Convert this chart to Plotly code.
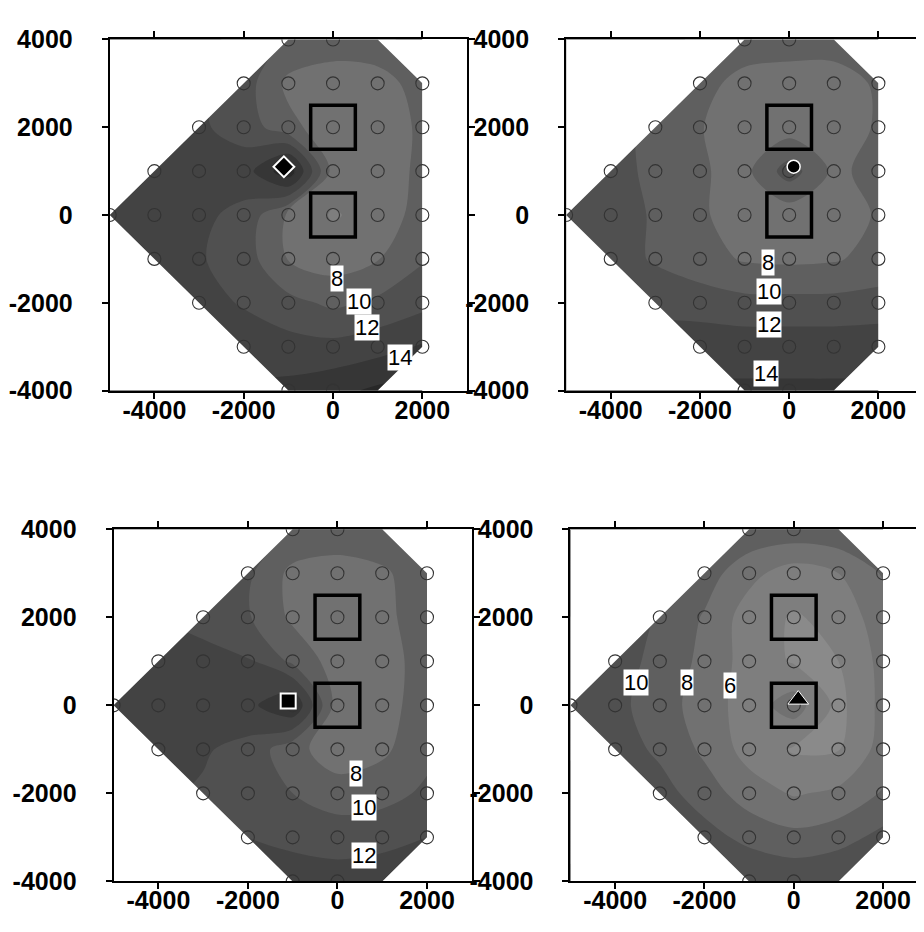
import plotly.graph_objects as go

# ---------------- data ----------------
grid_x = [-5000, -4000, -3000, -2000, -1000, 0, 1000, 2000]
grid_y = [4000, 3000, 2000, 1000, 0, -1000, -2000, -3000, -4000]

# panel values, rows follow grid_y (top to bottom), columns follow grid_x
z_top_left = [
    [13.0, 12.8, 12.4, 11.6, 9.8, 9.0, 9.6, 10.6],
    [13.0, 12.8, 12.4, 11.0, 7.5, 7.0, 7.0, 9.0],
    [13.0, 12.8, 12.3, 11.2, 8.6, 6.8, 7.0, 8.3],
    [13.0, 12.8, 12.6, 13.0, 17.5, 7.2, 7.0, 8.4],
    [13.0, 12.8, 12.4, 11.5, 7.6, 5.8, 6.8, 8.8],
    [13.0, 12.8, 12.2, 11.0, 7.9, 7.0, 7.9, 9.8],
    [13.4, 13.2, 12.8, 11.8, 10.6, 9.6, 10.4, 11.4],
    [14.0, 14.0, 13.8, 13.2, 12.8, 12.6, 13.2, 14.2],
    [14.6, 14.6, 14.5, 14.4, 14.6, 15.4, 16.4, 16.8],
]
z_top_right = [
    [11.6, 11.0, 10.4, 9.8, 9.0, 8.8, 9.0, 9.8],
    [12.0, 11.0, 10.0, 8.6, 7.4, 7.2, 7.0, 8.3],
    [11.8, 10.8, 9.4, 8.1, 7.0, 7.0, 7.0, 8.2],
    [11.4, 10.6, 9.6, 8.2, 7.4, 11.0, 7.6, 8.6],
    [11.5, 10.8, 9.8, 8.3, 7.0, 6.8, 7.0, 8.2],
    [11.8, 10.8, 9.8, 8.8, 7.8, 7.6, 7.8, 8.6],
    [12.4, 11.6, 11.2, 11.0, 10.6, 10.6, 10.6, 10.8],
    [13.6, 13.5, 13.4, 13.3, 13.2, 13.2, 13.2, 13.3],
    [14.4, 14.4, 14.3, 14.3, 14.3, 14.3, 14.3, 14.3],
]
z_bottom_left = [
    [12.0, 12.0, 11.5, 11.0, 10.0, 9.4, 9.8, 10.5],
    [12.0, 11.8, 11.2, 10.4, 7.4, 7.0, 7.6, 9.4],
    [12.4, 12.0, 11.4, 10.2, 7.6, 6.8, 7.4, 9.2],
    [13.0, 12.8, 12.6, 12.2, 9.6, 7.0, 7.0, 9.0],
    [13.4, 13.2, 13.2, 13.4, 16.0, 7.0, 7.2, 9.0],
    [13.0, 12.6, 12.2, 11.4, 8.6, 7.0, 7.6, 9.4],
    [12.6, 12.4, 11.8, 11.0, 10.0, 8.8, 9.2, 10.4],
    [13.0, 12.8, 12.4, 12.0, 11.6, 11.3, 11.5, 12.0],
    [13.6, 13.4, 13.2, 13.0, 12.8, 12.7, 12.9, 13.2],
]
z_bottom_right = [
    [13.0, 12.4, 11.6, 10.6, 9.6, 9.4, 9.6, 10.4],
    [12.4, 11.6, 10.6, 9.0, 6.6, 5.0, 6.0, 8.2],
    [12.0, 11.2, 9.8, 7.8, 5.0, 3.8, 4.6, 7.2],
    [11.8, 11.0, 9.3, 7.5, 5.1, 3.8, 4.0, 6.6],
    [11.4, 10.6, 8.9, 7.1, 5.0, 7.0, 3.4, 6.6],
    [11.8, 11.0, 9.6, 7.6, 5.2, 3.8, 3.9, 6.8],
    [12.6, 11.8, 10.8, 9.0, 7.0, 5.8, 6.4, 8.2],
    [13.4, 12.8, 12.0, 10.8, 9.4, 8.6, 9.2, 10.6],
    [14.4, 14.0, 13.4, 12.8, 12.0, 11.6, 12.0, 13.0],
]

# station positions
station_x = [-5000,
             -4000, -4000, -4000,
             -3000, -3000, -3000, -3000, -3000,
             -2000, -2000, -2000, -2000, -2000, -2000, -2000,
             -1000, -1000, -1000, -1000, -1000, -1000, -1000, -1000, -1000,
             0, 0, 0, 0, 0, 0, 0, 0, 0,
             1000, 1000, 1000, 1000, 1000, 1000, 1000,
             2000, 2000, 2000, 2000, 2000, 2000, 2000]
station_y = [0,
             -1000, 0, 1000,
             -2000, -1000, 0, 1000, 2000,
             -3000, -2000, -1000, 0, 1000, 2000, 3000,
             -4000, -3000, -2000, -1000, 0, 1000, 2000, 3000, 4000,
             -4000, -3000, -2000, -1000, 0, 1000, 2000, 3000, 4000,
             -3000, -2000, -1000, 0, 1000, 2000, 3000,
             -3000, -2000, -1000, 0, 1000, 2000, 3000]

# outline of the station array (convex hull)
hull_x = [-5000, -1000, 1000, 2000, 2000, 1000, -1000]
hull_y = [0, -4000, -4000, -3000, 3000, 4000, 4000]

# boxes around the two reference stations
box_center_x = [0, 0]
box_center_y = [2000, 0]
box_half = 500

# source markers
source_x = [-1100, 100, -1100, 100]
source_y = [1100, 1100, 100, 130]
source_symbol = ["diamond", "circle", "square", "triangle-up"]

# contour labels
label_text = [["8", "10", "12", "14"], ["8", "10", "12", "14"],
              ["8", "10", "12"], ["10", "8", "6"]]
label_x = [[100, 580, 750, 1490], [-470, -460, -460, -510],
           [410, 590, 590], [-3540, -2390, -1420]]
label_y = [[-1450, -1965, -2570, -3257], [-1090, -1735, -2500, -3620],
           [-1557, -2330, -3420], [510, 510, 450]]

x_tick_vals = [-4000, -2000, 0, 2000]
x_tick_text = ["-4000", "-2000", "0", "2000"]
y_tick_vals = [-4000, -2000, 0, 2000, 4000]
y_tick_text = ["-4000", "-2000", "0", "2000", "4000"]

band_grays = ["#969696", "#8a8a8a", "#7e7e7e", "#717171", "#5f5f5f",
              "#505050", "#434343", "#363636", "#282828", "#1c1c1c"]

# ---------------- layout geometry (pixels) ----------------
W, H = 924, 932
panels = [
    dict(z=z_top_left, px=(102.6, 463.0), py=(18, 380)),
    dict(z=z_top_right, px=(563.0, 923.0), py=(18, 380)),
    dict(z=z_bottom_left, px=(106.5, 467.8), py=(523, 886)),
    dict(z=z_bottom_right, px=(567.4, 924.0), py=(523, 886)),
]
x_range_full = [-5000, 3000]
y_range = [-4000, 4000]
units_per_px = 8000 / 360.4

colorscale = [[i / (len(band_grays) - 1), c] for i, c in enumerate(band_grays)]

fig = go.Figure()
layout = dict(width=W, height=H, margin=dict(l=0, r=0, t=0, b=0),
              paper_bgcolor="white", plot_bgcolor="white", showlegend=False)
shapes = []
annotations = []

tickfont = dict(family="Liberation Sans, Arial, sans-serif", size=25,
                color="black", weight="bold")
marker_sizes = {"diamond": 16, "circle": 13, "square": 15, "triangle-up": 18}
marker_lines = {"diamond": 2, "circle": 1.5, "square": 2, "triangle-up": 1}

for i, p in enumerate(panels):
    n = "" if i == 0 else str(i + 1)
    xa, ya = "x" + n, "y" + n
    x0, x1 = p["px"]
    y0, y1 = p["py"]
    xr = [x_range_full[0], x_range_full[0] + (x1 - x0) * units_per_px] if i == 3 else x_range_full

    # contour field
    fig.add_trace(go.Contour(
        x=grid_x, y=grid_y[::-1], z=p["z"][::-1],
        xaxis=xa, yaxis=ya,
        autocontour=False,
        contours=dict(start=2, end=18, size=2, coloring="fill", showlines=False),
        line=dict(width=0, smoothing=0.9),
        colorscale=colorscale, showscale=False, hoverinfo="skip",
    ))

    # white mask outside the station array
    ring_x = [x_range_full[0], x_range_full[0], x_range_full[1], x_range_full[1],
              x_range_full[0], x_range_full[0]] + hull_x[1:] + [hull_x[0]]
    ring_y = [0, y_range[1], y_range[1], y_range[0], y_range[0], 0] + hull_y[1:] + [hull_y[0]]
    fig.add_trace(go.Scatter(
        x=ring_x, y=ring_y, xaxis=xa, yaxis=ya, mode="lines",
        fill="toself", fillcolor="white", line=dict(width=0, color="white"),
        hoverinfo="skip",
    ))

    # stations
    fig.add_trace(go.Scatter(
        x=station_x, y=station_y, xaxis=xa, yaxis=ya, mode="markers",
        marker=dict(symbol="circle-open", size=13, color="#333333",
                    line=dict(width=1.1, color="#333333")),
        hoverinfo="skip",
    ))

    # source marker
    sym = source_symbol[i]
    fig.add_trace(go.Scatter(
        x=[source_x[i]], y=[source_y[i]], xaxis=xa, yaxis=ya, mode="markers",
        marker=dict(symbol=sym, size=marker_sizes[sym],
                    color="black", line=dict(width=marker_lines[sym], color="white")),
        hoverinfo="skip",
    ))

    # boxes
    for bx, by in zip(box_center_x, box_center_y):
        shapes.append(dict(type="rect", xref=xa, yref=ya,
                           x0=bx - box_half, x1=bx + box_half,
                           y0=by - box_half, y1=by + box_half,
                           line=dict(color="black", width=3.5), layer="above"))

    # contour labels
    for t, lx, ly in zip(label_text[i], label_x[i], label_y[i]):
        annotations.append(dict(x=lx, y=ly, xref=xa, yref=ya, text=t, showarrow=False,
                                bgcolor="white", borderpad=0,
                                font=dict(family="Liberation Sans, Arial, sans-serif",
                                          size=22, color="black")))

    axis_common = dict(showgrid=False, zeroline=False, showline=True, linecolor="black",
                       linewidth=2, mirror="allticks", ticks="outside", ticklen=6,
                       tickwidth=1.5, tickcolor="black", tickfont=tickfont)
    layout["xaxis" + n] = dict(axis_common, domain=[x0 / W, min(x1 / W, 1.0)], range=xr,
                               anchor=ya, tickvals=x_tick_vals, ticktext=x_tick_text,
                               ticklabelstandoff=-10)
    layout["yaxis" + n] = dict(axis_common, domain=[1 - y1 / H, 1 - y0 / H], range=y_range,
                               anchor=xa, tickvals=y_tick_vals, ticktext=y_tick_text,
                               ticklabelstandoff=24)

layout["shapes"] = shapes
layout["annotations"] = annotations
fig.update_layout(**layout)
fig.write_html("out.html")
